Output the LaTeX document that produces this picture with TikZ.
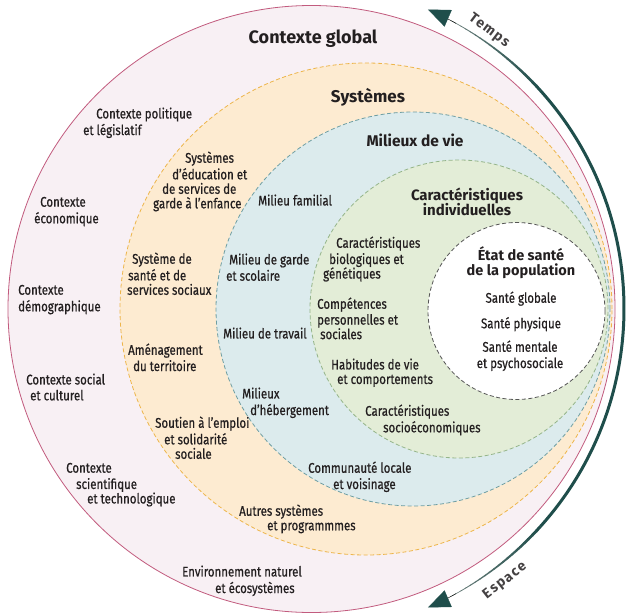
\documentclass[tikz,border=0pt]{standalone}
\usepackage{fontspec}
\setmainfont{Fira Sans}
\newfontfamily\cond[FakeStretch=0.82,FakeBold=0.6]{Fira Sans}
\newfontfamily\titlef{Fira Sans}
\newfontfamily\arcf[LetterSpace=10]{Fira Sans}
\usetikzlibrary{arrows.meta}
\definecolor{ink}{HTML}{231F20}
\definecolor{pinkfill}{HTML}{F8F0F4}
\definecolor{pinkline}{HTML}{C25B7E}
\definecolor{orfill}{HTML}{FDEBD1}
\definecolor{orline}{HTML}{EDB54A}
\definecolor{blfill}{HTML}{DCEBED}
\definecolor{blline}{HTML}{6E9EA3}
\definecolor{grfill}{HTML}{E3EDD7}
\definecolor{grline}{HTML}{94B489}
\definecolor{whline}{HTML}{555555}
\definecolor{darkteal}{HTML}{1F4E4B}
\definecolor{thin}{HTML}{8C9490}
\begin{document}
\begin{tikzpicture}[x=1pt,y=1pt,
  ring/.style={circle, inner sep=0pt, line width=0.8pt},
  dring/.style={ring, dash pattern=on 4pt off 2.5pt},
  lbl/.style={anchor=north west, align=left, inner sep=0pt, text=ink,
    font=\cond\fontsize{14}{14.5}\selectfont},
  lblc/.style={lbl, anchor=north, align=center},
  ttl/.style={inner sep=0pt, text=ink, align=center},
  arctxt/.style={inner sep=0pt, text=ink!85, font=\arcf\bfseries\fontsize{14}{16}\selectfont},
  arrowtip/.style={line width=0.5pt, thin, -{Triangle[length=22pt,width=18pt,color=darkteal]}}
]
\useasboundingbox (0,0) rectangle (626,-613);
\fill[white] (0,0) rectangle (626,-613);

% rings
\node[ring, draw=pinkline, fill=pinkfill, minimum size=607pt] (global) at (311.5,-309) {};
\node[dring, draw=orline, fill=orfill, minimum size=492pt] (sys) at (366,-309) {};
\node[dring, draw=blline, fill=blfill, minimum size=394pt] (mil) at (413,-309) {};
\node[dring, draw=grline, fill=grfill, minimum size=298pt] (car) at (459,-309) {};
\node[dring, draw=whline, fill=white, minimum size=177pt] (etat) at (516.5,-311) {};

% time / space arrow (tapered arc)
\coordinate (ac) at (298,-308.5);
\draw[darkteal, line width=3pt] ([shift={(42:326pt)}]ac) arc[start angle=42, end angle=-42, radius=326pt];
\foreach \k in {0,...,19}{
  \pgfmathsetmacro\aa{42+\k}
  \pgfmathsetmacro\ab{43.1+\k}
  \pgfmathsetmacro\ww{3-2.5*\k/19}
  \pgfmathtruncatemacro\cc{100-70*\k/19}
  \draw[line width=\ww pt, darkteal!\cc!thin] ([shift={(\aa:326pt)}]ac) arc[start angle=\aa, end angle=\ab, radius=326pt];
  \draw[line width=\ww pt, darkteal!\cc!thin] ([shift={(-\aa:326pt)}]ac) arc[start angle=-\aa, end angle=-\ab, radius=326pt];
}
\draw[arrowtip] ([shift={(61:326pt)}]ac) arc[start angle=61, end angle=66.5, radius=326pt];
\draw[arrowtip] ([shift={(-61:326pt)}]ac) arc[start angle=-61, end angle=-66.5, radius=326pt];
\node[arctxt, rotate=-37] (temps) at (489,-31) {Temps};
\node[arctxt, rotate=38] (espace) at (505,-581) {Espace};

% titles
\node[ttl, anchor=base, font=\titlef\bfseries\fontsize{18}{20}\selectfont] (tglobal) at (313,-43) {Contexte global};
\node[ttl, anchor=base, font=\titlef\bfseries\fontsize{17}{19}\selectfont] (tsys) at (368,-102) {Systèmes};
\node[ttl, anchor=base, font=\titlef\bfseries\fontsize{15.5}{17}\selectfont] (tmil) at (415,-146) {Milieux de vie};
\node[ttl, font=\titlef\bfseries\fontsize{15}{15.5}\selectfont] (tcar) at (467,-202) {Caractéristiques\\individuelles};
\node[ttl, font=\titlef\bfseries\fontsize{14.5}{15}\selectfont] (tetat) at (521,-263) {État de santé\\de la population};

\begin{scope}[yshift=5.65pt]
% contexte global
\node[lbl] (pol) at (83,-113) {\strut\hspace*{13pt}Contexte politique\\et législatif};
\node[lbl] (eco) at (34,-202) {\strut\hspace*{6pt}Contexte\\économique};
\node[lbl] (demo) at (18,-290) {\strut Contexte\\démographique};
\node[lbl] (soc) at (26,-379) {\strut Contexte social\\\hspace*{4pt}et culturel};
\node[lbl] (sci) at (66,-468) {\strut Contexte\\\hspace*{10pt}scientifique\\\hspace*{21pt}et technologique};
\node[lbl] (env) at (182,-571) {\strut Environnement naturel\\\hspace*{33pt}et écosystèmes};
% systemes
\node[lbl] (edu) at (153,-157) {\strut\hspace*{32pt}Systèmes\\\hspace*{19pt}d’éducation et\\\hspace*{9pt}de services de\\garde à l’enfance};
\node[lbl] (sante) at (127,-258) {\strut\hspace*{5pt}Système de\\\hspace*{1pt}santé et de\\services sociaux};
\node[lbl] (amen) at (128,-349) {\strut Aménagement\\\hspace*{5pt}du territoire};
\node[lbl] (emploi) at (155,-422) {\strut Soutien à l’emploi\\\hspace*{9pt}et solidarité\\\hspace*{20pt}sociale};
\node[lbl] (autres) at (239,-510) {\strut Autres systèmes\\\hspace*{28pt}et programmmes};
% milieux de vie
\node[lbl] (fam) at (258,-200) {\strut Milieu familial};
\node[lbl] (garde) at (226,-259) {\strut\hspace*{3pt}Milieu de garde\\et scolaire};
\node[lbl] (trav) at (223,-333) {\strut Milieu de travail};
\node[lbl] (heb) at (242,-393) {\strut Milieux\\\hspace*{8pt}d’hébergement};
\node[lbl] (comm) at (308,-467) {\strut Communauté locale\\\hspace*{25pt}et voisinage};
% caracteristiques individuelles
\node[lbl] (bio) at (323,-242) {\strut\hspace*{13pt}Caractéristiques\\\hspace*{6pt}biologiques et\\génétiques};
\node[lbl] (comp) at (317,-303) {\strut Compétences\\personnelles et\\\hspace*{3pt}sociales};
\node[lbl] (hab) at (331,-364) {\strut Habitudes de vie\\\hspace*{6pt}et comportements};
\node[lbl] (socio) at (365,-410) {\strut Caractéristiques\\\hspace*{18pt}socioéconomiques};
% etat de sante
\node[lblc] (sglob) at (521,-297) {\strut Santé globale};
\node[lblc] (sphys) at (521,-322.5) {\strut Santé physique};
\node[lblc] (sment) at (520,-346) {\strut Santé mentale\\et psychosociale};
\end{scope}
\end{tikzpicture}
\end{document}
